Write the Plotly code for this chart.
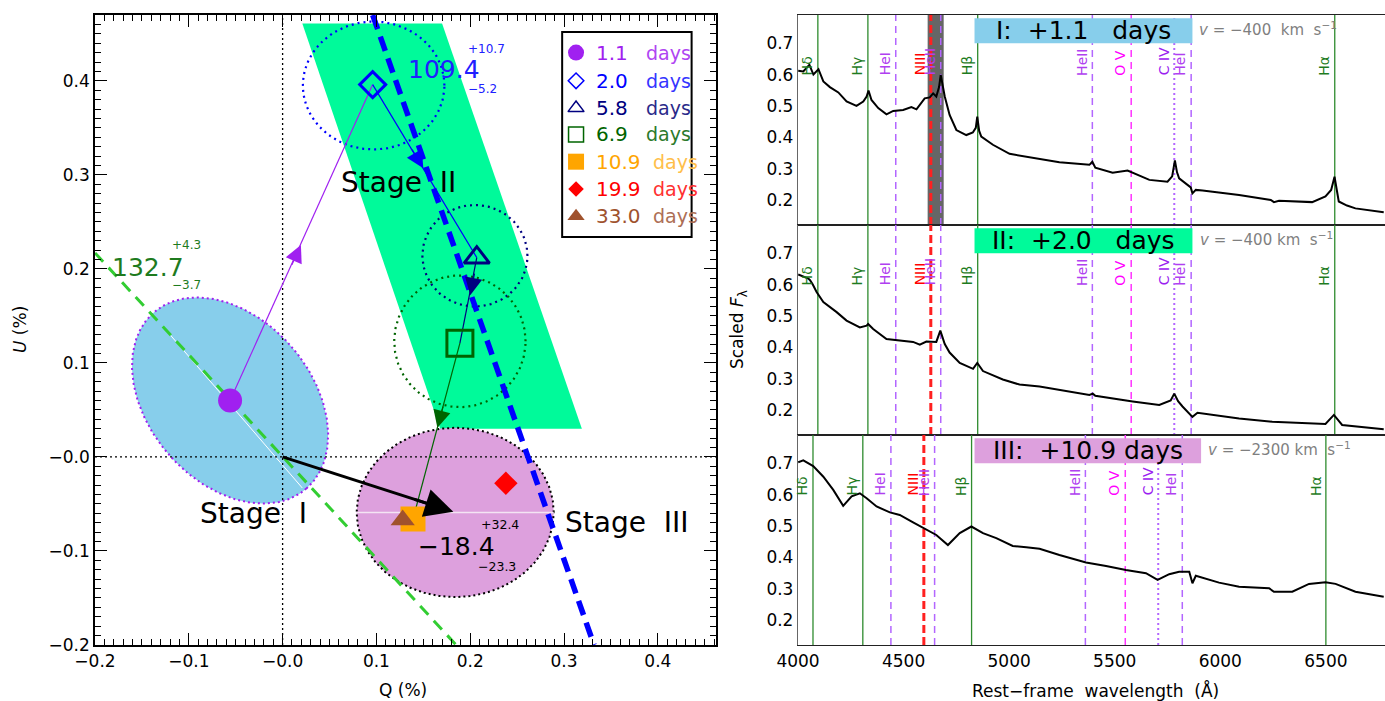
import numpy as np
import plotly.graph_objects as go

F = "DejaVu Sans"
W, H = 1385, 701

# ---------------- Left panel (Q-U plane) data ----------------
epoch_days = ["1.1", "2.0", "5.8", "6.9", "10.9", "19.9", "33.0"]
q_pct = [-0.056, 0.096, 0.207, 0.189, 0.139, 0.238, 0.128]
u_pct = [0.060, 0.396, 0.212, 0.121, -0.066, -0.028, -0.067]
epoch_colors = ["#A020F0", "#0000FF", "#000080", "#006400", "#FFA500", "#FF0000", "#A0522D"]
days_colors = ["#B045F2", "#3535FF", "#2A2A8A", "#2B7A2B", "#FFBE4A", "#FF3030", "#AD6E55"]
epoch_symbols = ["circle", "diamond-open", "triangle-up-open", "square-open",
                 "square", "diamond", "triangle-up"]
marker_sizes = [24, 20, 22, 26, 25, 18, 21]
legend_sizes = [16, 12, 14, 15, 16, 12, 15]
legend_u = [0.430, 0.400, 0.371, 0.343, 0.314, 0.285, 0.256]

# uncertainty circles for 2.0, 5.8, 6.9 days
err_q_center = [0.097, 0.205, 0.189]
err_u_center = [0.395, 0.214, 0.123]
err_q_radius = [0.0755, 0.056, 0.070]
err_u_radius = [0.068, 0.054, 0.070]
err_colors = ["#0000FF", "#000080", "#006400"]

# stage regions
stage1_center = [-0.056, 0.060]
stage1_axes = [0.124, 0.087]
stage1_angle = -49.0
stage2_q = [0.021, 0.170, 0.319, 0.168]
stage2_u = [0.461, 0.461, 0.030, 0.030]
stage3_center = [0.184, -0.059]
stage3_axes = [0.105, 0.090]

# dominant-axis lines
blue_axis_q = [0.096, 0.332]
blue_axis_u = [0.470, -0.200]
green_axis_q = [-0.200, 0.185]
green_axis_u = [0.217, -0.200]
white1_q = [-0.120, 0.021]
white1_u = [0.130, -0.033]
white3_q = [0.079, 0.289]
white3_u = [-0.059, -0.059]

# mid-segment arrow tips along the time path
arrow_tip_q = [0.0195, 0.150, 0.200, 0.165]
arrow_tip_u = [0.2255, 0.307, 0.172, 0.031]

# ---------------- Right panels (spectra) data ----------------
spec1_wl = [4001, 4025, 4054, 4073, 4097, 4120, 4151, 4191, 4230, 4277, 4309, 4325, 4334,
            4348, 4380, 4419, 4451, 4498, 4537, 4561, 4600, 4624, 4640, 4655, 4668, 4676,
            4695, 4718, 4750, 4797, 4828, 4842, 4849, 4858, 4868, 4923, 5002, 5081, 5144,
            5238, 5380, 5394, 5408, 5490, 5561, 5593, 5664, 5750, 5772, 5785, 5795, 5805,
            5845, 5860, 5868, 5884, 5916, 6089, 6239, 6254, 6278, 6435, 6498, 6525, 6541,
            6552, 6561, 6600, 6640, 6774]
spec1_flux = [0.612, 0.610, 0.631, 0.600, 0.617, 0.578, 0.560, 0.543, 0.514, 0.500, 0.514, 0.530, 0.549,
              0.519, 0.493, 0.473, 0.484, 0.487, 0.496, 0.489, 0.524, 0.527, 0.540, 0.530, 0.560, 0.599,
              0.530, 0.471, 0.423, 0.407, 0.415, 0.430, 0.466, 0.420, 0.402, 0.376, 0.347, 0.338, 0.330,
              0.320, 0.312, 0.322, 0.303, 0.287, 0.294, 0.285, 0.264, 0.258, 0.275, 0.326, 0.288, 0.269,
              0.248, 0.240, 0.221, 0.232, 0.230, 0.216, 0.200, 0.193, 0.197, 0.193, 0.211, 0.232, 0.274,
              0.222, 0.195, 0.182, 0.173, 0.161]

spec2_wl = [4001, 4049, 4057, 4070, 4088, 4120, 4183, 4230, 4293, 4325, 4332, 4356, 4419, 4498,
            4545, 4577, 4608, 4655, 4674, 4695, 4718, 4766, 4829, 4849, 4876, 4970, 5049, 5144,
            5380, 5396, 5408, 5585, 5711, 5765, 5782, 5800, 5821, 5868, 5892, 6089, 6246, 6498,
            6538, 6577, 6774]
spec2_flux = [0.632, 0.619, 0.614, 0.600, 0.576, 0.544, 0.512, 0.485, 0.463, 0.469, 0.474, 0.458,
              0.426, 0.420, 0.417, 0.408, 0.418, 0.417, 0.453, 0.410, 0.383, 0.350, 0.331, 0.350,
              0.324, 0.297, 0.281, 0.275, 0.248, 0.252, 0.245, 0.227, 0.216, 0.230, 0.252, 0.228,
              0.211, 0.178, 0.191, 0.173, 0.162, 0.155, 0.184, 0.152, 0.138]

spec3_wl = [4001, 4025, 4072, 4120, 4167, 4214, 4254, 4293, 4325, 4372, 4435, 4482, 4545, 4592,
            4655, 4710, 4766, 4821, 4876, 4939, 5017, 5081, 5144, 5238, 5364, 5459, 5553, 5648,
            5703, 5758, 5805, 5853, 5868, 5884, 5994, 6089, 6231, 6254, 6341, 6420, 6498, 6546,
            6640, 6774]
spec3_flux = [0.703, 0.709, 0.691, 0.657, 0.615, 0.564, 0.594, 0.604, 0.588, 0.562, 0.543, 0.535,
              0.511, 0.493, 0.471, 0.439, 0.477, 0.498, 0.477, 0.461, 0.436, 0.432, 0.427, 0.407,
              0.383, 0.372, 0.359, 0.349, 0.328, 0.346, 0.354, 0.354, 0.317, 0.341, 0.319, 0.306,
              0.301, 0.290, 0.290, 0.315, 0.320, 0.315, 0.290, 0.274]

line_labels = ["Hδ", "Hγ", "HeI", "NIII", "HeII", "Hβ", "HeII", "O V", "C IV", "HeI", "Hα"]
line_kinds = ["H", "H", "He", "N", "He", "H", "He", "O", "C", "He", "H"]
lines_wl_I = [4094, 4331, 4463, 4629, 4676, 4851, 5394, 5578, 5782, 5862, 6542]
lines_wl_II = [4094, 4331, 4463, 4629, 4676, 4851, 5394, 5578, 5782, 5862, 6542]
lines_wl_III = [4071, 4307, 4440, 4596, 4647, 4822, 5361, 5550, 5706, 5820, 6500]
band_I = [4614, 4690]

panel_titles = ["I:  +1.1   days", "II:  +2.0   days", "III:  +10.9 days"]
panel_colors = ["#87CEEB", "#00FA9A", "#DDA0DD"]
panel_vel = ["<i>v</i> = −400  km  s<sup>−1</sup>", "<i>v</i> = −400 km  s<sup>−1</sup>",
             "<i>v</i> = −2300 km  s<sup>−1</sup>"]
title_box_x = [[4836, 5868], [4836, 5868], [4836, 5909]]
vel_x = [5890, 5895, 5930]

kind_style = {
    "H": dict(color="#2E8B2E", width=1.3, dash="solid"),
    "He": dict(color="#B366FF", width=1.5, dash="7px,5px"),
    "N": dict(color="#FF2020", width=3, dash="8px,4px"),
    "O": dict(color="#FF33FF", width=1.5, dash="7px,5px"),
    "C": dict(color="#B366FF", width=2, dash="2px,3px"),
}
kind_text_color = {"H": "#1E7B1E", "He": "#B040F0", "N": "#FF0000", "O": "#FF00FF", "C": "#9A20F0"}

fig = go.Figure()


def ellipse(cx, cy, a, b, ang_deg, n=240):
    t = np.linspace(0, 2 * np.pi, n)
    ang = np.radians(ang_deg)
    x = cx + a * np.cos(t) * np.cos(ang) - b * np.sin(t) * np.sin(ang)
    y = cy + a * np.cos(t) * np.sin(ang) + b * np.sin(t) * np.cos(ang)
    return x, y


def L(**kw):
    kw.setdefault("mode", "lines")
    kw.setdefault("hoverinfo", "skip")
    kw.setdefault("xaxis", "x")
    kw.setdefault("yaxis", "y")
    fig.add_trace(go.Scatter(**kw))


# Stage II region
L(x=stage2_q + [stage2_q[0]], y=stage2_u + [stage2_u[0]], fill="toself",
  fillcolor="#00FA9A", line=dict(width=0))
# Stage I ellipse
ex, ey = ellipse(stage1_center[0], stage1_center[1], stage1_axes[0], stage1_axes[1], stage1_angle)
L(x=ex, y=ey, fill="toself", fillcolor="#87CEEB", line=dict(color="#A020F0", width=2, dash="2px,3px"))
# Stage III ellipse
ex, ey = ellipse(stage3_center[0], stage3_center[1], stage3_axes[0], stage3_axes[1], 0)
L(x=ex, y=ey, fill="toself", fillcolor="#DDA0DD", line=dict(color="black", width=2, dash="2px,3px"))
# white position-angle lines
L(x=white1_q, y=white1_u, line=dict(color="white", width=1))
L(x=white3_q, y=white3_u, line=dict(color="#F4E4F4", width=1.5))
# uncertainty circles
for i in range(3):
    ex, ey = ellipse(err_q_center[i], err_u_center[i], err_q_radius[i], err_u_radius[i], 0)
    L(x=ex, y=ey, line=dict(color=err_colors[i], width=2.2, dash="2px,4px"))
# zero lines
L(x=[0, 0], y=[-0.2, 0.47], line=dict(color="black", width=1.3, dash="2px,3px"))
L(x=[-0.2, 0.462], y=[0, 0], line=dict(color="black", width=1.3, dash="2px,3px"))
# dominant axes
L(x=green_axis_q, y=green_axis_u, line=dict(color="#32CD32", width=3, dash="12px,8px"))
L(x=blue_axis_q, y=blue_axis_u, line=dict(color="#0000FF", width=5.5, dash="15px,8px"))
# time path
path_colors = ["#A020F0", "#0000FF", "#000080", "#006400"]
for i in range(4):
    L(x=[q_pct[i], q_pct[i + 1]], y=[u_pct[i], u_pct[i + 1]], line=dict(color=path_colors[i], width=1.2))
# black vector arrow line
L(x=[0, stage3_center[0] - 0.025], y=[0, stage3_center[1] + 0.008], line=dict(color="black", width=3))
# markers
for i in range(7):
    open_ = "open" in epoch_symbols[i]
    fig.add_trace(go.Scatter(
        x=[q_pct[i]], y=[u_pct[i]], mode="markers", hoverinfo="skip", xaxis="x", yaxis="y",
        marker=dict(symbol=epoch_symbols[i], size=marker_sizes[i], color=epoch_colors[i],
                    line=dict(color=epoch_colors[i], width=3 if open_ else 0))))
# legend markers
for i in range(7):
    open_ = "open" in epoch_symbols[i]
    fig.add_trace(go.Scatter(
        x=[0.3128], y=[legend_u[i]], mode="markers", hoverinfo="skip", xaxis="x", yaxis="y",
        marker=dict(symbol=epoch_symbols[i], size=legend_sizes[i], color=epoch_colors[i],
                    line=dict(color=epoch_colors[i], width=1.5 if open_ else 0))))

annotations = []
shapes = []


def txt(text, x, y, size, color="black", xanchor="left", yanchor="middle", xref="x", yref="y", angle=0):
    annotations.append(dict(text=text, x=x, y=y, xref=xref, yref=yref, showarrow=False,
                            xanchor=xanchor, yanchor=yanchor, textangle=angle,
                            font=dict(family=F, size=size, color=color)))


# arrows on path
for i in range(4):
    dq = q_pct[i + 1] - q_pct[i]
    du = u_pct[i + 1] - u_pct[i]
    n = (dq ** 2 + du ** 2) ** 0.5
    annotations.append(dict(x=arrow_tip_q[i], y=arrow_tip_u[i], ax=arrow_tip_q[i] - 0.025 * dq / n,
                            ay=arrow_tip_u[i] - 0.025 * du / n, xref="x", yref="y", axref="x", ayref="y",
                            showarrow=True, arrowhead=2, arrowsize=2.9, arrowwidth=1.2,
                            arrowcolor=path_colors[i], text=""))
# big black arrow head
annotations.append(dict(x=stage3_center[0] - 0.002, y=stage3_center[1] + 0.0006,
                        ax=stage3_center[0] - 0.045, ay=stage3_center[1] + 0.0144,
                        xref="x", yref="y", axref="x", ayref="y", showarrow=True, arrowhead=2,
                        arrowsize=1.9, arrowwidth=3, arrowcolor="black", text=""))

# angle labels
txt("132.7", -0.184, 0.202, 25, "#1E7B1E")
txt("+4.3", -0.120, 0.2255, 12, "#1E7B1E")
txt("−3.7", -0.120, 0.183, 12, "#1E7B1E")
txt("109.4", 0.132, 0.412, 25, "#2020FF")
txt("+10.7", 0.196, 0.434, 12, "#2020FF")
txt("−5.2", 0.196, 0.391, 12, "#2020FF")
txt("−18.4", 0.1426, -0.0957, 25, "black")
txt("+32.4", 0.2096, -0.0723, 12.5, "black")
txt("−23.3", 0.2064, -0.116, 12.5, "black")
txt("Stage\u00a0\u00a0I", -0.090, -0.0606, 28)
txt("Stage\u00a0\u00a0II", 0.0596, 0.2915, 28)
txt("Stage\u00a0\u00a0III", 0.299, -0.070, 28)

# legend texts + box
for i in range(7):
    txt(epoch_days[i], 0.3319, legend_u[i], 20, epoch_colors[i])
    txt("days", 0.385 if len(epoch_days[i]) < 4 else 0.3926, legend_u[i], 19, days_colors[i])
shapes.append(dict(type="rect", xref="x", yref="y", x0=0.298, x1=0.436, y0=0.234, y1=0.452,
                   line=dict(color="black", width=2), layer="above"))

# axis titles
txt("Q (%)", 403 / W, 1 - 690 / H, 17, xref="paper", yref="paper", xanchor="center")
txt("<i>U</i> (%)", 20 / W, 1 - 330 / H, 17, xref="paper", yref="paper", xanchor="center", angle=-90)
txt("Rest−frame  wavelength  (Å)", 1095 / W, 1 - 690 / H, 17, xref="paper", yref="paper",
    xanchor="center")
txt("Scaled <i>F</i><sub>λ</sub>", 738 / W, 1 - 330 / H, 17, xref="paper", yref="paper",
    xanchor="center", angle=-90)

# ---------------- Right panels ----------------
specs = [(spec1_wl, spec1_flux), (spec2_wl, spec2_flux), (spec3_wl, spec3_flux)]
line_sets = [lines_wl_I, lines_wl_II, lines_wl_III]
for p in range(3):
    xa, ya = "x%d" % (p + 2), "y%d" % (p + 2)
    if p == 0:
        shapes.append(dict(type="rect", xref=xa, yref=ya, x0=band_I[0], x1=band_I[1], y0=0.12, y1=0.79,
                           fillcolor="#666666", line=dict(width=0), layer="below"))
    for w, kind, lab in zip(line_sets[p], line_kinds, line_labels):
        st = kind_style[kind]
        shapes.append(dict(type="line", xref=xa, yref=ya, x0=w, x1=w, y0=0.12, y1=0.79,
                           line=dict(color=st["color"], width=st["width"], dash=st["dash"]),
                           layer="below"))
        txt(lab, w - 3, 0.59, 14, kind_text_color[kind], xanchor="right", yanchor="bottom",
            xref=xa, yref=ya, angle=-90)
    fig.add_trace(go.Scatter(x=specs[p][0], y=specs[p][1], mode="lines", hoverinfo="skip",
                             xaxis=xa, yaxis=ya, line=dict(color="black", width=2)))
    bx = title_box_x[p]
    shapes.append(dict(type="rect", xref=xa, yref=ya, x0=bx[0], x1=bx[1], y0=0.70, y1=0.78,
                       fillcolor=panel_colors[p], line=dict(width=0), layer="above"))
    txt(panel_titles[p], (bx[0] + bx[1]) / 2, 0.74, 25, "black", xanchor="center", xref=xa, yref=ya)
    txt(panel_vel[p], vel_x[p], 0.745, 15, "#7F7F7F", xref=xa, yref=ya)

ax_left = dict(showgrid=False, zeroline=False, showline=True, linecolor="black", linewidth=1.5,
               automargin=False,
               mirror="allticks", ticks="inside", ticklen=12, tickwidth=1.2, tickcolor="black",
               tick0=0, dtick=0.1, tickformat=".1f", labelalias={"0.0": "−0.0", "−0.0": "−0.0"},
               minor=dict(dtick=0.01, ticks="inside", ticklen=6, tickcolor="black", tickwidth=1),
               tickfont=dict(family=F, size=17, color="black"))
ax_r_x = dict(showgrid=False, zeroline=False, showline=True, linecolor="#222", linewidth=1.3,
              automargin=False,
              mirror=True, ticks="", range=[4000, 6780], tick0=4000, dtick=500,
              tickfont=dict(family=F, size=17, color="black"))
ax_r_y = dict(showgrid=False, zeroline=False, showline=True, linecolor="#666", linewidth=1.3,
              automargin=False,
              ticks="", range=[0.12, 0.79], tickvals=[0.2, 0.3, 0.4, 0.5, 0.6, 0.7], tickformat=".1f",
              tickfont=dict(family=F, size=17, color="black"))

ydom = [[1 - 225 / H, 1 - 15 / H], [1 - 435 / H, 1 - 225 / H], [1 - 645 / H, 1 - 435 / H]]
layout = dict(
    template="none",
    width=W, height=H, margin=dict(l=0, r=0, t=0, b=0, autoexpand=False), plot_bgcolor="white",
    paper_bgcolor="white",
    showlegend=False, font=dict(family=F, size=17, color="black"),
    xaxis=dict(ax_left, domain=[95 / W, 716 / W], range=[-0.2, 0.462], anchor="y"),
    yaxis=dict(ax_left, domain=[1 - 645 / H, 1 - 15 / H], range=[-0.2, 0.47], anchor="x"),
    annotations=annotations, shapes=shapes,
)
for p in range(3):
    xa = "xaxis%d" % (p + 2)
    ya = "yaxis%d" % (p + 2)
    layout[xa] = dict(ax_r_x, domain=[798 / W, 1.0], anchor="y%d" % (p + 2),
                      showticklabels=(p == 2))
    layout[ya] = dict(ax_r_y, domain=ydom[p], anchor="x%d" % (p + 2))
fig.update_layout(**layout)

fig.write_html("out.html", config={"displayModeBar": False},
               post_script="document.body.style.margin='0px';document.body.style.overflow='hidden';")
